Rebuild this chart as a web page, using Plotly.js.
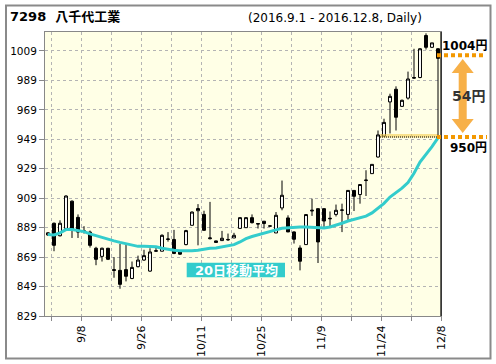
<!DOCTYPE html>
<html>
<head>
<meta charset="utf-8">
<script src="https://cdn.plot.ly/plotly-3.0.1.min.js"></script>
<style>html,body{margin:0;padding:0;background:#fff;}#chart{width:496px;height:364px;}</style>
</head>
<body>
<div id="chart"></div>
<script>
// Trading days 2016-09-01 .. 2016-12-08 (Tokyo)
const dates = ['9/1','9/2','9/5','9/6','9/7','9/8','9/9','9/12','9/13','9/14','9/15','9/16','9/20','9/21','9/23',
  '9/26','9/27','9/28','9/29','9/30','10/3','10/4','10/5','10/6','10/7','10/11','10/12','10/13','10/14',
  '10/17','10/18','10/19','10/20','10/21','10/24','10/25','10/26','10/27','10/28','10/31',
  '11/1','11/2','11/4','11/7','11/8','11/9','11/10','11/11','11/14','11/15','11/16','11/17','11/18',
  '11/21','11/22','11/24','11/25','11/28','11/29','11/30','12/1','12/2','12/5','12/6','12/7','12/8'];
const openP  = [884,892,883.5,888.5,907,896,886.5,886,875,869.5,875,860.5,860,860.5,854.5,862.5,867,859.5,873,873,
  881,881,872.5,877.5,890.6,900.5,898,881.5,880,880.2,881,882,888.5,889,895.8,891.8,893.4,890,885.4,902.4,
  895.6,886.1,875.2,877.5,900.3,901.9,901.9,895,898,900.8,898,914.3,911.5,921,925.7,937,951.2,974.4,983,971.4,
  977,990.5,991,1019.5,1011.5,1010.5];
const highP  = [886,892.5,894,911,907.5,898,890,887,876,875.5,875.3,869,878,878,866,870,874,875,876,884.5,
  886,887.5,872.8,887.5,900,905,900.5,906.5,880.2,886.8,885,885.5,896,896,898,892,893.5,890.5,899.6,921,
  897.4,886.5,877,898,908.7,902,902,900,904.7,905.3,914.5,914.5,918.5,928,932,955,963,980,985,976,
  995,1010.5,1011,1021,1014.5,1011];
const lowP   = [883.5,873,883,888,882,882,885,875.5,863.5,866,867,855,847.5,852.5,854,862,866.5,859,872.5,873,
  879.5,871,870.5,877,890.5,877,887,881,879,880,880,882,888.4,889,891.8,888.4,888.4,889.5,885.4,900.8,
  886,878.2,860,877.5,897,865,889.5,889,896.6,886,894,900.3,905.3,910.5,925.7,936.6,951,953,955,971,
  976,990,990.5,1010,1011,1004];
const closeP = [885.5,877,892,910.5,888,886,886.8,877,867.5,875,867.5,860,850.5,856,862,867,870,872.5,873.3,883.8,
  881.3,871.5,871,887,899.6,902,887.2,882,879,881.8,880.8,883.8,895.8,895.8,892.4,891.5,891.8,890.2,897.4,911,
  886.1,881.1,866.2,897.9,900.8,879.3,893.5,895.3,900.8,901,914.3,910.3,918.3,921.3,932,952,960.5,978.2,964,975.5,
  990,991,1010.5,1011.5,1014.5,1004];
const ma20   = [884.3,884,885.5,887.7,887.7,887.2,886.3,884.8,883.5,882.5,881,880,879,878,876.8,876.3,876.3,876.3,876,875,
  874.2,873.6,873.3,873.1,873.3,873.6,874.5,875,875.2,875.8,876.4,877.5,879.3,881.5,883,884,885,886.1,887.5,888.6,
  889,889.2,889.5,889.5,889.3,888.8,888.8,889.5,890.5,892,893.5,894.7,895.6,896.8,899,902,905.5,909.8,912.6,915.8,
  919.6,926,933.5,938.7,944,950];
const yTicks = [829,849,869,889,909,929,949,969,989,1009];
const xTickLabels = ['9/8','9/26','10/11','10/25','11/9','11/24','12/8'];
const titleText = '7298\u00A0\u00A0八千代工業';
const subtitleText = '(2016.9.1 - 2016.12.8, Daily)';
const maLabel = '20日移動平均';
const lastCloseLabel = '1004円';
const maLastLabel = '950円';
const diffLabel = '54円';

const idx = dates.map((d, i) => i);
// grid/tick positions every 5 trading days, labels every 10
const gridVals = [], gridText = [];
for (let k = 0; k < dates.length; k += 5) {
  gridVals.push(k + 0.5);
  const lab = dates[k];
  gridText.push(xTickLabels.includes(lab) ? lab : '');
}

const W = 496, H = 364, ML = 45, MR = 55, MT = 32, MB = 48;
const PW = W - ML - MR, PH = H - MT - MB;
const px = x => (x - ML) / PW;
const py = y => (H - MB - y) / PH;

const traces = [
  {
    type: 'candlestick', x: idx, open: openP, high: highP, low: lowP, close: closeP,
    increasing: {line: {color: '#000', width: 1}, fillcolor: '#ffffff'},
    decreasing: {line: {color: '#000', width: 1}, fillcolor: '#000000'},
    whiskerwidth: 0, hoverinfo: 'skip', showlegend: false
  },
  {
    type: 'scatter', mode: 'lines', x: idx, y: ma20,
    line: {color: '#33CCCC', width: 3}, hoverinfo: 'skip', showlegend: false
  }
];

const c = 462.7;
const arrowPts = [[c,59],[c+11,73],[c+4,73],[c+4,119],[c+11,119],[c,133],[c-11,119],[c-4,119],[c-4,73],[c-11,73]];
const arrowPath = 'M' + arrowPts.map(p => px(p[0]).toFixed(5) + ',' + py(p[1]).toFixed(5)).join(' L') + ' Z';

const shapes = [
  {type: 'rect', xref: 'paper', yref: 'paper', x0: px(6), x1: px(490.5), y0: py(358.5), y1: py(5.5),
   line: {color: '#8a8a8a', width: 2}, fillcolor: 'rgba(0,0,0,0)'},
  {type: 'line', xref: 'paper', yref: 'paper', x0: 1, x1: 1, y0: 0, y1: 1, line: {color: '#000', width: 1.2}},
  {type: 'rect', xref: 'paper', yref: 'paper', x0: px(380), x1: px(437.5), y0: py(137.5), y1: py(134),
   line: {width: 0}, fillcolor: 'rgba(245,205,80,0.6)'},
  {type: 'line', xref: 'paper', yref: 'paper', x0: px(380), x1: px(437.5), y0: py(137), y1: py(137),
   line: {color: '#000', width: 1, dash: '1px,1px'}},
  {type: 'line', xref: 'paper', yref: 'paper', x0: px(438), x1: px(438), y0: py(57), y1: py(137),
   line: {color: '#000', width: 1}},
  {type: 'line', xref: 'paper', yref: 'paper', x0: px(437), x1: px(484), y0: py(55.3), y1: py(55.3),
   line: {color: '#F39800', width: 4, dash: '4px,3px'}},
  {type: 'line', xref: 'paper', yref: 'paper', x0: px(437), x1: px(487), y0: py(137), y1: py(137),
   line: {color: '#F39800', width: 4, dash: '4px,3px'}},
  {type: 'path', xref: 'paper', yref: 'paper', path: arrowPath, fillcolor: '#F7B048', line: {width: 0}},
  {type: 'rect', xref: 'paper', yref: 'paper', x0: px(186.7), x1: px(285), y0: py(277.3), y1: py(262.7),
   line: {width: 0}, fillcolor: '#33CCCC'}
];

const fontMain = 'DejaVu Sans, Noto Sans CJK JP, sans-serif';
const annotations = [
  {xref: 'paper', yref: 'paper', x: px(8), y: py(17), xanchor: 'left', yanchor: 'middle', showarrow: false,
   text: '<b>' + titleText + '</b>', font: {family: fontMain, size: 13, color: '#000'}},
  {xref: 'paper', yref: 'paper', x: px(246), y: py(18), xanchor: 'left', yanchor: 'middle', showarrow: false,
   text: subtitleText, font: {family: fontMain, size: 12, color: '#000'}},
  {xref: 'paper', yref: 'paper', x: px(440), y: py(46), xanchor: 'left', yanchor: 'middle', showarrow: false,
   text: '<b>' + lastCloseLabel + '</b>', font: {family: fontMain, size: 12, color: '#000'}},
  {xref: 'paper', yref: 'paper', x: px(448), y: py(148), xanchor: 'left', yanchor: 'middle', showarrow: false,
   text: '<b>' + maLastLabel + '</b>', font: {family: fontMain, size: 12, color: '#000'}},
  {xref: 'paper', yref: 'paper', x: px(468), y: py(96), xanchor: 'center', yanchor: 'middle', showarrow: false,
   text: '<b>' + diffLabel + '</b>', font: {family: fontMain, size: 14, color: '#333333'}},
  {xref: 'paper', yref: 'paper', x: px(236), y: py(270), xanchor: 'center', yanchor: 'middle', showarrow: false,
   text: '<b>' + maLabel + '</b>', font: {family: fontMain, size: 13, color: '#ffffff'}}
];

const layout = {
  width: W, height: H,
  margin: {l: ML, r: MR, t: MT, b: MB, pad: 0},
  paper_bgcolor: '#ffffff', plot_bgcolor: '#FFFFE6',
  showlegend: false, boxgap: 0.3,
  xaxis: {
    range: [-0.5, 65.5], tickmode: 'array', tickvals: gridVals, ticktext: gridText, tickangle: -90,
    ticks: 'outside', ticklen: 4, tickcolor: '#888', showgrid: true, gridcolor: '#b4b4b4', griddash: '3px,3px',
    showline: true, linecolor: '#888', linewidth: 1, mirror: true, zeroline: false,
    rangeslider: {visible: false}, tickfont: {family: 'DejaVu Sans', size: 11, color: '#000'}, fixedrange: true
  },
  yaxis: {
    range: [829, 1021.9], tickmode: 'array', tickvals: yTicks, ticktext: yTicks.map(String),
    ticks: 'outside', ticklen: 5, tickcolor: '#888', showgrid: true, gridcolor: '#b4b4b4', griddash: '3px,3px',
    showline: true, linecolor: '#888', linewidth: 1, mirror: true, zeroline: false,
    tickfont: {family: 'DejaVu Sans', size: 10.5, color: '#000'}, fixedrange: true
  },
  shapes: shapes, annotations: annotations
};

Plotly.newPlot('chart', traces, layout, {staticPlot: true, displayModeBar: false});
</script>
</body>
</html>
